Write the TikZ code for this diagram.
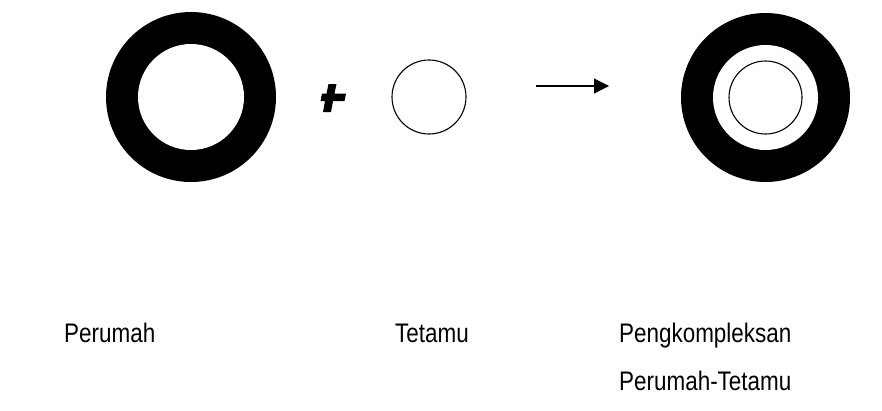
\documentclass[tikz,border=0pt]{standalone}
\usepackage{fontspec}
\setmainfont{Liberation Sans}
\usetikzlibrary{arrows.meta}
\newcommand{\tallt}[1]{\scalebox{1.02}[1.22]{#1}}
\begin{document}
\begin{tikzpicture}[x=1pt,y=-1pt,
  ringout/.style={circle,fill=black,draw=none,inner sep=0pt,minimum size=#1},
  ringin/.style={circle,fill=white,draw=none,inner sep=0pt,minimum size=#1},
  thin/.style={circle,draw=black,line width=1.1pt,fill=white,inner sep=0pt,minimum size=#1},
  lbl/.style={anchor=base west,inner sep=0pt,font=\fontsize{22}{26}\selectfont}]
\useasboundingbox[fill=white] (0,0) rectangle (882,410);
% host
\node[ringout=170pt] (hostout) at (191,97) {};
\node[ringin=106pt] (hostin) at (191,97) {};
% plus
\fill[black] (328.5,84) -- (336.5,84) -- (334.5,93.5) -- (346,93.5) -- (344.5,101) -- (333,101) -- (331,112) -- (323,112) -- (325,101) -- (320.5,101) -- (322,93.5) -- (326.5,93.5) -- cycle;
% guest
\node[thin=74pt] (guest) at (429,97) {};
% arrow
\coordinate (a1) at (536,86);
\coordinate (a2) at (609,86);
\draw[line width=1.1pt,-{Triangle[length=15pt,width=15pt]}] (a1) -- (a2);
% complex
\node[ringout=169pt] (cxout) at (765.5,97.5) {};
\node[ringin=105pt] (cxin) at (765.5,97.5) {};
\node[thin=73pt] (cxguest) at (765.5,97.5) {};
% labels
\node[lbl] (l1) at (64,342) {\tallt{Perumah}};
\node[lbl] (l2) at (395,342) {\tallt{Tetamu}};
\node[lbl] (l3) at (619,342) {\tallt{Pengkompleksan}};
\node[lbl] (l4) at (619,390) {\tallt{Perumah-Tetamu}};
\end{tikzpicture}
\end{document}
